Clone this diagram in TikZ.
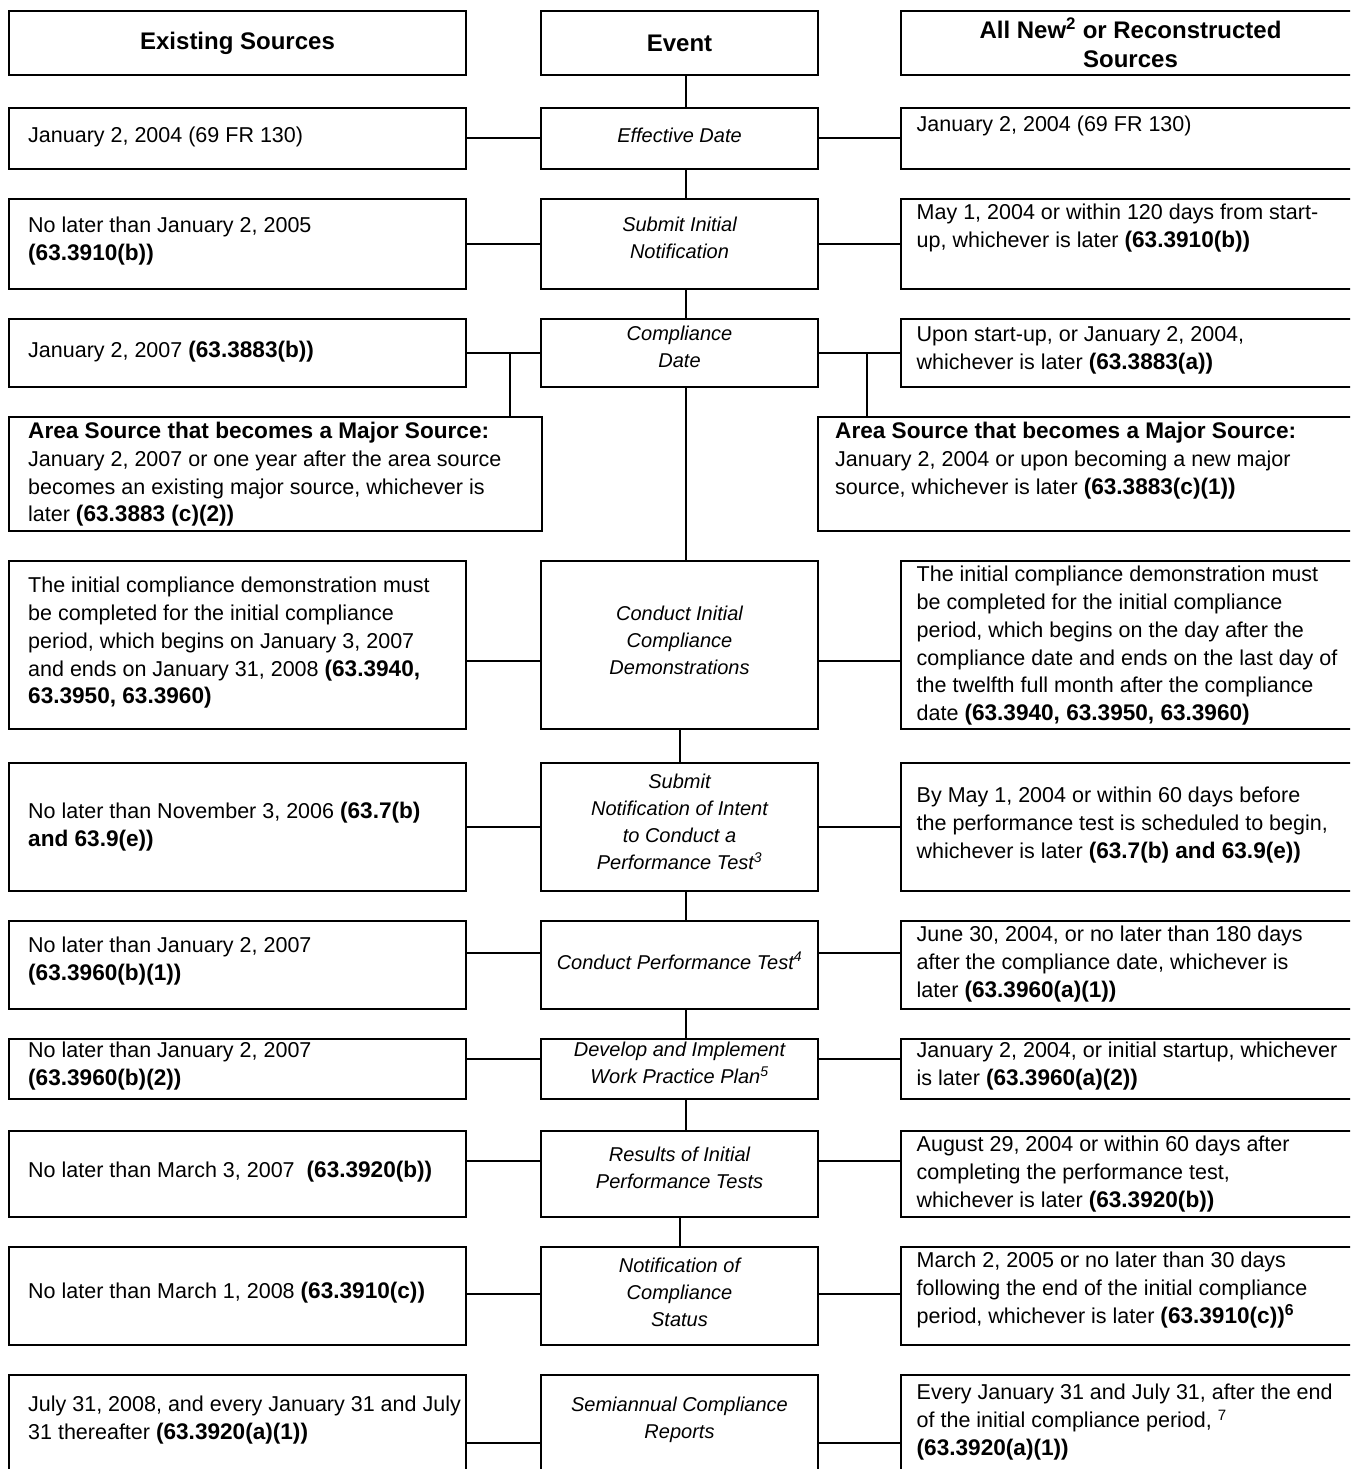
\documentclass[tikz,border=0pt]{standalone}
\usepackage{fontspec}
\setmainfont{Liberation Sans}
\usetikzlibrary{calc}
\newcommand\B[1]{{\fontsize{22.6}{27.8}\selectfont\bfseries #1}}
\newcommand\mkbox[5]{\node[box, minimum width={#4-#2}, minimum height={#5-#3}] (#1) at ({(#2+#4)/2},{(#3+#5)/2}) {};}
\begin{document}
\begin{tikzpicture}[x=1pt,y=-1pt,
  box/.style={draw,line width=2pt,inner sep=0pt},
  conn/.style={line width=2pt},
  txt/.style={inner sep=0pt,align=left,anchor=north west,font=\fontsize{21.5}{27.8}\selectfont},
  etxt/.style={inner sep=0pt,align=center,anchor=north,font=\fontsize{20}{27}\selectfont\itshape},
  htxt/.style={inner sep=0pt,align=center,font=\fontsize{24}{29}\selectfont\bfseries}]
\useasboundingbox (0,0) rectangle (1350,1469);
\clip (0,0) rectangle (1350,1469);
% ---------- boxes ----------
\mkbox{HL}{9}{11}{466}{75}
\mkbox{HE}{541}{11}{818}{75}
\mkbox{HR}{901}{11}{1360}{75}
\mkbox{L1}{9}{108}{466}{169}   \mkbox{E1}{541}{108}{818}{169}   \mkbox{R1}{901}{108}{1360}{169}
\mkbox{L2}{9}{199}{466}{289}   \mkbox{E2}{541}{199}{818}{289}   \mkbox{R2}{901}{199}{1360}{289}
\mkbox{L3}{9}{319}{466}{387}   \mkbox{E3}{541}{319}{818}{387}   \mkbox{R3}{901}{319}{1360}{387}
\mkbox{LA}{9}{417}{542}{531}                                    \mkbox{RA}{818}{417}{1360}{531}
\mkbox{L4}{9}{561}{466}{729}   \mkbox{E4}{541}{561}{818}{729}   \mkbox{R4}{901}{561}{1360}{729}
\mkbox{L5}{9}{763}{466}{891}   \mkbox{E5}{541}{763}{818}{891}   \mkbox{R5}{901}{763}{1360}{891}
\mkbox{L6}{9}{921}{466}{1009}  \mkbox{E6}{541}{921}{818}{1009}  \mkbox{R6}{901}{921}{1360}{1009}
\mkbox{L7}{9}{1039}{466}{1099} \mkbox{E7}{541}{1039}{818}{1099} \mkbox{R7}{901}{1039}{1360}{1099}
\mkbox{L8}{9}{1131}{466}{1217} \mkbox{E8}{541}{1131}{818}{1217} \mkbox{R8}{901}{1131}{1360}{1217}
\mkbox{L9}{9}{1247}{466}{1345} \mkbox{E9}{541}{1247}{818}{1345} \mkbox{R9}{901}{1247}{1360}{1345}
\mkbox{L10}{9}{1375}{466}{1500} \mkbox{E10}{541}{1375}{818}{1500} \mkbox{R10}{901}{1375}{1360}{1500}
% ---------- headers ----------
\node[htxt] (tHL) at (HL) {Existing Sources};
\node[htxt] (tHE) at (HE) {Event};
\node[htxt] (tHR) at (HR) {All New\textsuperscript{2} or Reconstructed\\Sources};
% ---------- left texts ----------
\node[txt] (tL1) at (28,127) {January 2, 2004 (69 FR 130)};
\node[txt] (tL2) at (28,217) {No later than January 2, 2005\\\B{(63.3910(b))}};
\node[txt] (tL3) at (28,341) {January 2, 2007 \B{(63.3883(b))}};
\node[txt] (tLA) at (28,422) {\B{Area Source that becomes a Major Source:}\\January 2, 2007 or one year after the area source\\becomes an existing major source, whichever is\\later \B{(63.3883 (c)(2))}};
\node[txt] (tL4) at (28,577) {The initial compliance demonstration must\\be completed for the initial compliance\\period, which begins on January 3, 2007\\and ends on January 31, 2008 \B{(63.3940,}\\\B{63.3950, 63.3960)}};
\node[txt] (tL5) at (28,802) {No later than November 3, 2006 \B{(63.7(b)}\\\B{and 63.9(e))}};
\node[txt] (tL6) at (28,937) {No later than January 2, 2007\\\B{(63.3960(b)(1))}};
\node[txt] (tL7) at (28,1042) {No later than January 2, 2007\\\B{(63.3960(b)(2))}};
\node[txt] (tL8) at (28,1161) {No later than March 3, 2007\ \ \B{(63.3920(b))}};
\node[txt] (tL9) at (28,1282) {No later than March 1, 2008 \B{(63.3910(c))}};
\node[txt] (tL10) at (28,1396) {July 31, 2008, and every January 31 and July\\31 thereafter \B{(63.3920(a)(1))}};
% ---------- event texts ----------
\node[etxt] (tE1) at (679.5,128) {Effective Date};
\node[etxt] (tE2) at (679.5,217) {Submit Initial\\Notification};
\node[etxt] (tE3) at (679.5,326) {Compliance\\Date};
\node[etxt] (tE4) at (679.5,606) {Conduct Initial\\Compliance\\Demonstrations};
\node[etxt] (tE5) at (679.5,774) {Submit\\Notification of Intent\\to Conduct a\\Performance Test\textsuperscript{3}};
\node[etxt] (tE6) at (679.5,952) {Conduct Performance Test\textsuperscript{4}};
\node[etxt] (tE7) at (679.5,1042) {Develop and Implement\\Work Practice Plan\textsuperscript{5}};
\node[etxt] (tE8) at (679.5,1147) {Results of Initial\\Performance Tests};
\node[etxt] (tE9) at (679.5,1258) {Notification of\\Compliance\\Status};
\node[etxt] (tE10) at (679.5,1397) {Semiannual Compliance\\Reports};
% ---------- right texts ----------
\node[txt] (tR1) at (916.5,116) {January 2, 2004 (69 FR 130)};
\node[txt] (tR2) at (916.5,204) {May 1, 2004 or within 120 days from start-\\up, whichever is later \B{(63.3910(b))}};
\node[txt] (tR3) at (916.5,326) {Upon start-up, or January 2, 2004,\\whichever is later \B{(63.3883(a))}};
\node[txt] (tRA) at (835,422) {\B{Area Source that becomes a Major Source:}\\January 2, 2004 or upon becoming a new major\\source, whichever is later \B{(63.3883(c)(1))}};
\node[txt] (tR4) at (916.5,566) {The initial compliance demonstration must\\be completed for the initial compliance\\period, which begins on the day after the\\compliance date and ends on the last day of\\the twelfth full month after the compliance\\date \B{(63.3940, 63.3950, 63.3960)}};
\node[txt] (tR5) at (916.5,787) {By May 1, 2004 or within 60 days before\\the performance test is scheduled to begin,\\whichever is later \B{(63.7(b) and 63.9(e))}};
\node[txt] (tR6) at (916.5,926) {June 30, 2004, or no later than 180 days\\after the compliance date, whichever is\\later \B{(63.3960(a)(1))}};
\node[txt] (tR7) at (916.5,1042) {January 2, 2004, or initial startup, whichever\\is later \B{(63.3960(a)(2))}};
\node[txt] (tR8) at (916.5,1136) {August 29, 2004 or within 60 days after\\completing the performance test,\\whichever is later \B{(63.3920(b))}};
\node[txt] (tR9) at (916.5,1252) {March 2, 2005 or no later than 30 days\\following the end of the initial compliance\\period, whichever is later \B{(63.3910(c))\textsuperscript{6}}};
\node[txt] (tR10) at (916.5,1384) {Every January 31 and July 31, after the end\\of the initial compliance period, \textsuperscript{7}\\\B{(63.3920(a)(1))}};
% ---------- vertical connectors ----------
\draw[conn] ([xshift=6.5pt]HE.south) -- ([xshift=6.5pt]E1.north);
\draw[conn] ([xshift=6.5pt]E1.south) -- ([xshift=6.5pt]E2.north);
\draw[conn] ([xshift=6.5pt]E2.south) -- ([xshift=6.5pt]E3.north);
\draw[conn] ([xshift=6.5pt]E3.south) -- ([xshift=6.5pt]E4.north);
\draw[conn] ([xshift=0.5pt]E4.south) -- ([xshift=0.5pt]E5.north);
\draw[conn] ([xshift=6.5pt]E5.south) -- ([xshift=6.5pt]E6.north);
\draw[conn] ([xshift=6.5pt]E6.south) -- ([xshift=6.5pt]E7.north);
\draw[conn] ([xshift=6.5pt]E7.south) -- ([xshift=6.5pt]E8.north);
\draw[conn] ([xshift=0.5pt]E8.south) -- ([xshift=0.5pt]E9.north);
% ---------- horizontal connectors ----------
\draw[conn] (L1.east) -- (E1.west);  \draw[conn] (E1.east) -- (R1.west);
\draw[conn] (L2.east) -- (E2.west);  \draw[conn] (E2.east) -- (R2.west);
\draw[conn] (L3.east) -- (E3.west);  \draw[conn] (E3.east) -- (R3.west);
\coordinate (jL) at (510,353);
\coordinate (jR) at (866.5,353);
\draw[conn] (jL) -- (jL |- LA.north);
\draw[conn] (jR) -- (jR |- RA.north);
\draw[conn] ([yshift=-16pt]L4.east) -- ([yshift=-16pt]E4.west);  \draw[conn] ([yshift=-16pt]E4.east) -- ([yshift=-16pt]R4.west);
\draw[conn] (L5.east) -- (E5.west);  \draw[conn] (E5.east) -- (R5.west);
\draw[conn] ([yshift=12pt]L6.east) -- ([yshift=12pt]E6.west);  \draw[conn] ([yshift=12pt]E6.east) -- ([yshift=12pt]R6.west);
\draw[conn] ([yshift=10pt]L7.east) -- ([yshift=10pt]E7.west);  \draw[conn] ([yshift=10pt]E7.east) -- ([yshift=10pt]R7.west);
\draw[conn] ([yshift=13pt]L8.east) -- ([yshift=13pt]E8.west);  \draw[conn] ([yshift=13pt]E8.east) -- ([yshift=13pt]R8.west);
\draw[conn] ([yshift=2pt]L9.east) -- ([yshift=2pt]E9.west);  \draw[conn] ([yshift=2pt]E9.east) -- ([yshift=2pt]R9.west);
\draw[conn] ([yshift=-5.5pt]L10.east) -- ([yshift=-5.5pt]E10.west);  \draw[conn] ([yshift=-5.5pt]E10.east) -- ([yshift=-5.5pt]R10.west);
\end{tikzpicture}
\end{document}
